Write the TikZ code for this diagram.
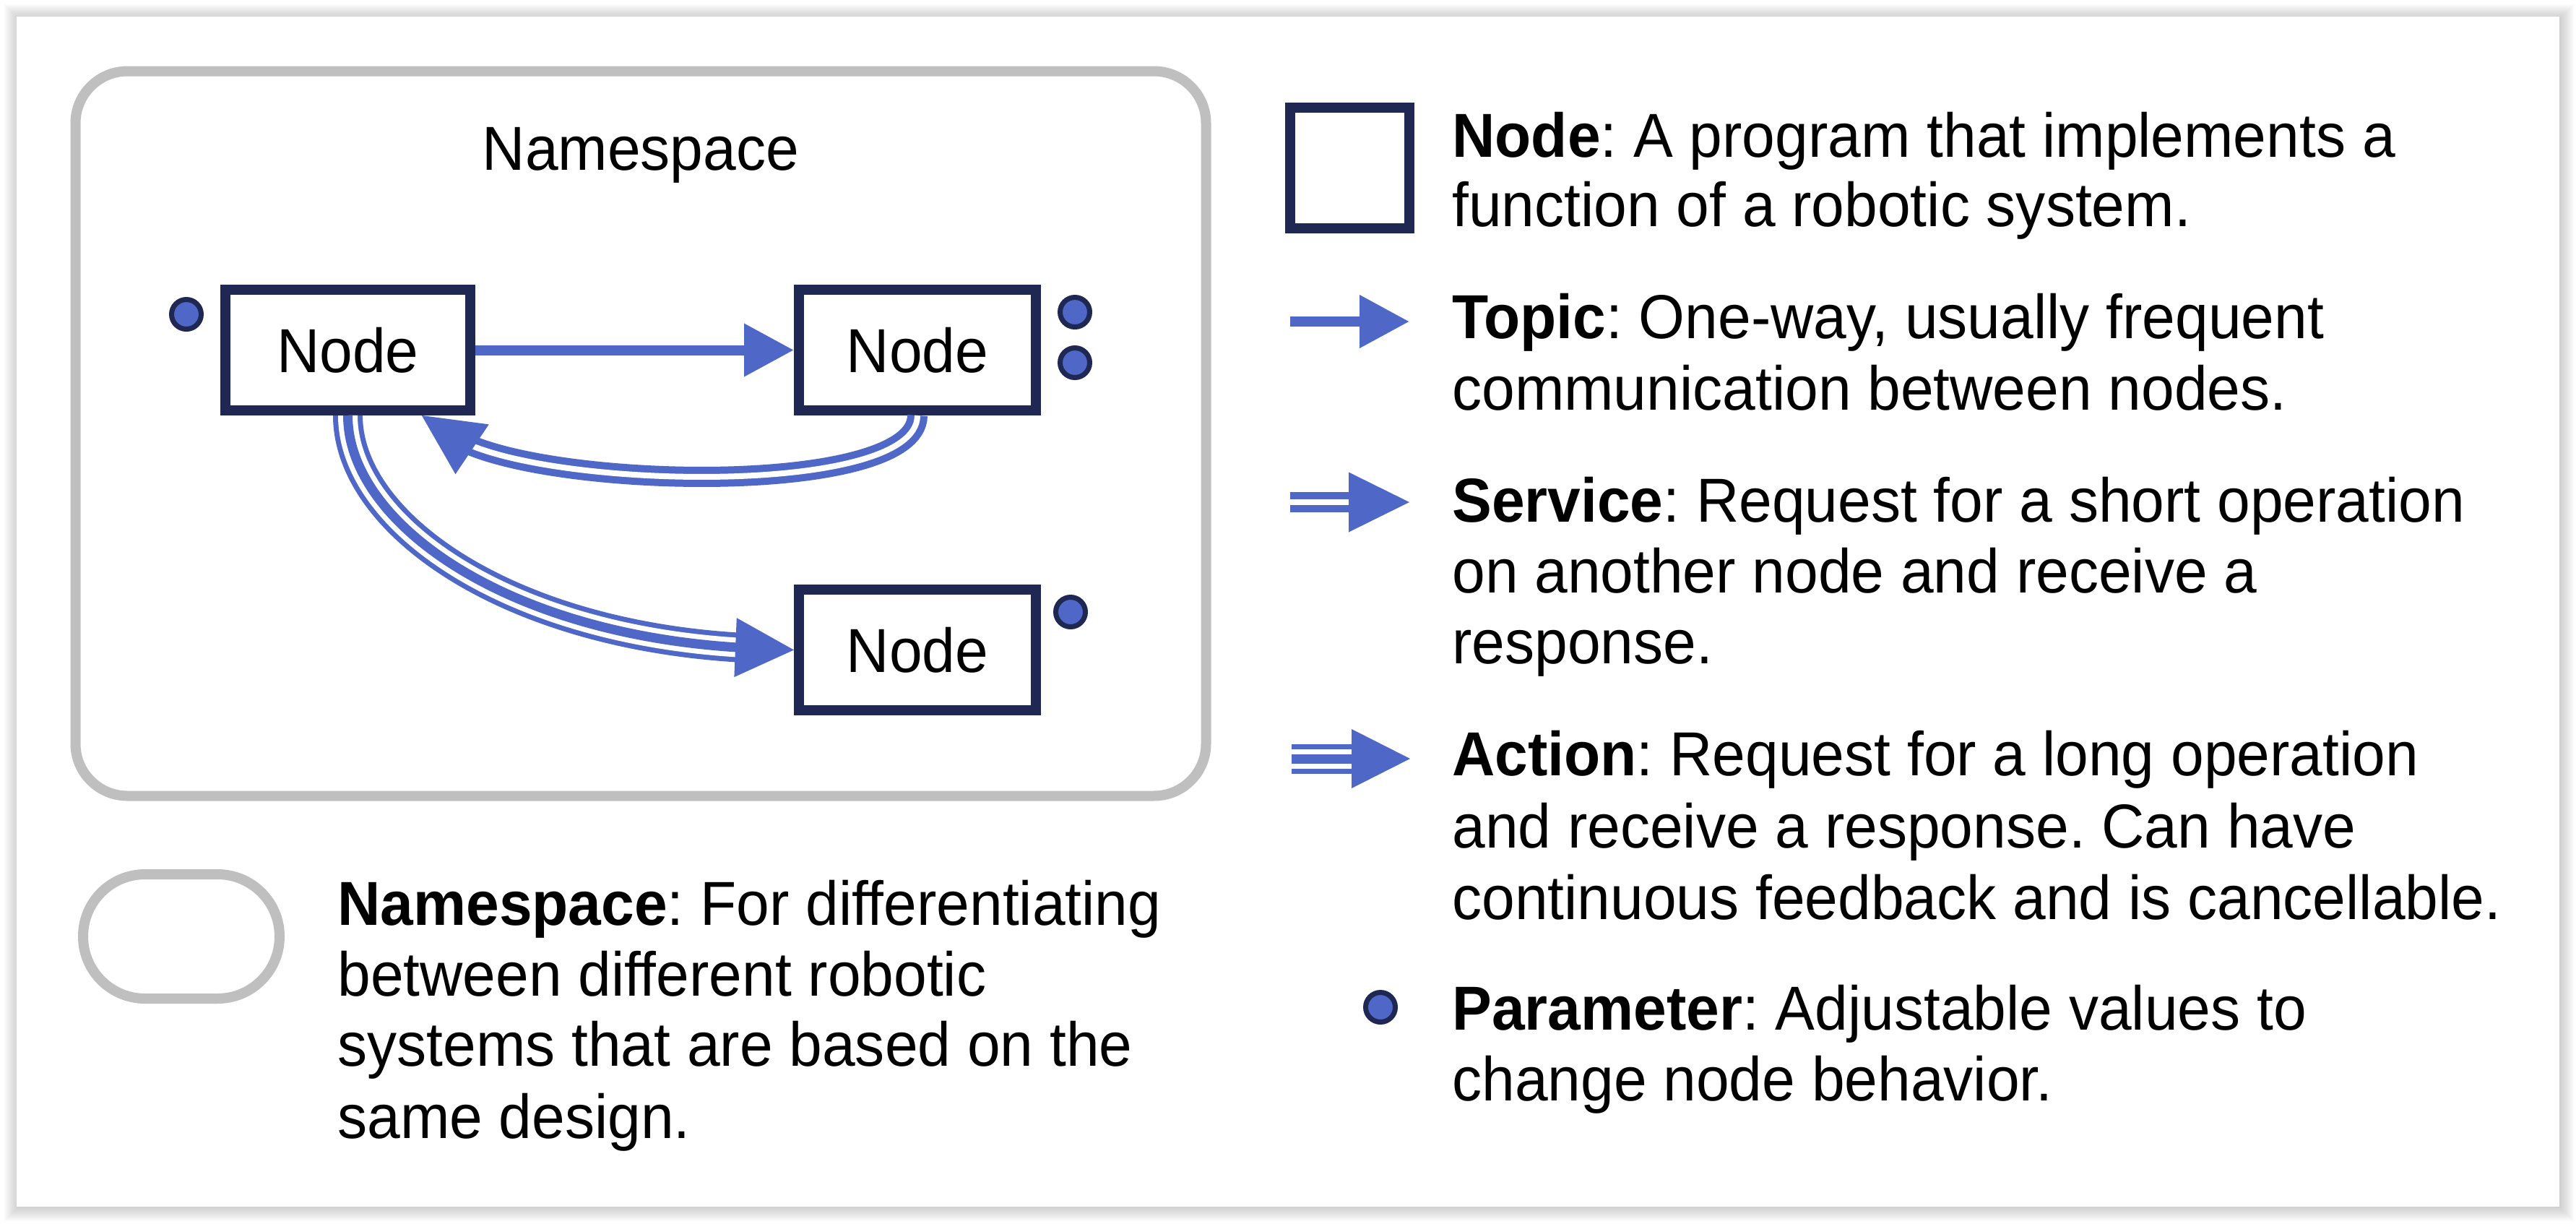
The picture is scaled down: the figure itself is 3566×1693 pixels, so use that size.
\documentclass[tikz,border=0pt]{standalone}
\usepackage{fontspec}
\setmainfont{Liberation Sans}[FakeStretch=0.955]
\usetikzlibrary{arrows.meta,calc}
\definecolor{navy}{RGB}{31,39,83}
\definecolor{rosblue}{RGB}{79,104,200}
\definecolor{nsgray}{RGB}{191,191,191}
\frenchspacing
\newcommand\rosHead[4]{% tip, direction point, length, half width
  \coordinate (hb) at ($(#1)!#3!(#2)$);
  \fill[rosblue] (#1) -- ($(hb)!#4!90:(#1)$) -- ($(hb)!#4!-90:(#1)$) -- cycle;
}
\tikzset{
  txt/.style={anchor=base west, inner sep=0pt, font=\fontsize{43pt}{49pt}\selectfont},
  rosnode/.style={draw=navy, line width=7pt, fill=white, rectangle, inner sep=0pt,
    minimum width=164pt, minimum height=83.5pt, font=\fontsize{43pt}{49pt}\selectfont},
  param/.style={circle, draw=navy, fill=rosblue, line width=3.5pt, minimum size=20.5pt, inner sep=0pt},
  nsbox/.style={draw=nsgray, line width=7pt, inner sep=0pt},
  topicline/.style={draw=rosblue, line width=7pt, -{Triangle[length=34.5pt,width=35pt]}},
  svcouter/.style={draw=rosblue, line width=14pt},
  svcinner/.style={draw=white, line width=4pt},
  actouter/.style={draw=rosblue, line width=20.5pt},
  actmid/.style={draw=white, line width=13.5pt},
  actinner/.style={draw=rosblue, line width=6.5pt},
}
\begin{document}
\begin{tikzpicture}[x=0.5pt, y=-0.5pt]
\useasboundingbox (0,0) rectangle (3566,1693);
% page shadow and sheet
\foreach \s in {2,4,...,20} {
  \fill[black, fill opacity=0.02] ({23-\s+3},{23-\s+3}) rectangle ({3543+\s},{1670+\s});
}
\fill[white] (23,23) rectangle (3543,1670);

% namespace container
\node[nsbox, rounded corners=36pt, minimum width=782.5pt, minimum height=501.5pt] (ns) at (887,600) {};
\node[anchor=base, inner sep=0pt, font=\fontsize{43pt}{49pt}\selectfont] (nstitle) at (887,235) {Namespace};

% nodes
\node[rosnode, minimum width=169.5pt] (n1) at (481.5,484.5) {Node};
\node[rosnode] (n2) at (1270,484.5) {Node};
\node[rosnode] (n3) at (1270,899.5) {Node};

% parameters
\node[param] (p1) at (258,435) {};
\node[param] (p2) at (1488,432) {};
\node[param] (p3) at (1488,502) {};
\node[param] (p4) at (1482,847) {};

% topic
\draw[topicline] (n1.east) -- (n2.west);

% service
\coordinate (sE) at ($(n1.south west)!0.79!(n1.south east)$);
\coordinate (sC2) at ($(sE)+(152,102)$);
\draw[svcouter, shorten >=25pt] (n2.south) .. controls +(0,115) and (sC2) .. (sE);
\draw[svcinner, shorten >=25pt] (n2.south) .. controls +(0,115) and (sC2) .. (sE);
\rosHead{sE}{sC2}{42pt}{20.75pt}

% action
\coordinate (aC1) at ($(n1.south)+(0,150)$);
\coordinate (aC2) at ($(n3.west)+(-394,-16.5)$);
\draw[actouter, shorten >=27.5pt] (n1.south) .. controls (aC1) and (aC2) .. (n3.west);
\draw[actmid, shorten >=27.5pt] (n1.south) .. controls (aC1) and (aC2) .. (n3.west);
\draw[actinner, shorten >=27.5pt] (n1.south) .. controls (aC1) and (aC2) .. (n3.west);
\rosHead{n3.west}{aC2}{40.5pt}{20.5pt}

% ---------- legend ----------
\node[rosnode, minimum width=82.5pt, minimum height=83.5pt] (lnode) at (1868.5,232.5) {};

\coordinate (lt1) at (1786,445); \coordinate (lt2) at (1951,445);
\draw[topicline] (lt1) -- (lt2);

\coordinate (ls1) at (1786,695); \coordinate (ls2) at (1951,695);
\draw[svcouter, shorten >=25pt] (ls1) -- (ls2);
\draw[svcinner, shorten >=25pt] (ls1) -- (ls2);
\rosHead{ls2}{ls1}{42pt}{20.75pt}

\coordinate (la1) at (1788,1050); \coordinate (la2) at (1952,1050);
\draw[actouter, shorten >=27.5pt] (la1) -- (la2);
\draw[actmid, shorten >=27.5pt] (la1) -- (la2);
\draw[actinner, shorten >=27.5pt] (la1) -- (la2);
\rosHead{la2}{la1}{40.5pt}{20.5pt}

\node[param] (lparam) at (1911,1394) {};

\node[nsbox, rounded corners=42.9pt, minimum width=136pt, minimum height=86pt] (lns) at (251,1296) {};

% legend texts
\node[txt] (tn1) at (2010,217) {\textbf{Node}: A program that implements a};
\node[txt] (tn2) at (2010,313) {function of a robotic system.};
\node[txt] (tt1) at (2010,468) {\textbf{Topic}: One-way, usually frequent};
\node[txt] (tt2) at (2010,567) {communication between nodes.};
\node[txt] (ts1) at (2010,722) {\textbf{Service}: Request for a short operation};
\node[txt] (ts2) at (2010,820) {on another node and receive a};
\node[txt] (ts3) at (2010,918) {response.};
\node[txt] (ta1) at (2010,1073) {\textbf{Action}: Request for a long operation};
\node[txt] (ta2) at (2010,1173) {and receive a response. Can have};
\node[txt] (ta3) at (2010,1272) {continuous feedback and is cancellable.};
\node[txt] (tp1) at (2010,1425) {\textbf{Parameter}: Adjustable values to};
\node[txt] (tp2) at (2010,1523) {change node behavior.};
\node[txt] (tns1) at (467,1280) {\textbf{Namespace}: For differentiating};
\node[txt] (tns2) at (467,1378) {between different robotic};
\node[txt] (tns3) at (467,1475) {systems that are based on the};
\node[txt] (tns4) at (467,1575) {same design.};
\end{tikzpicture}
\end{document}
